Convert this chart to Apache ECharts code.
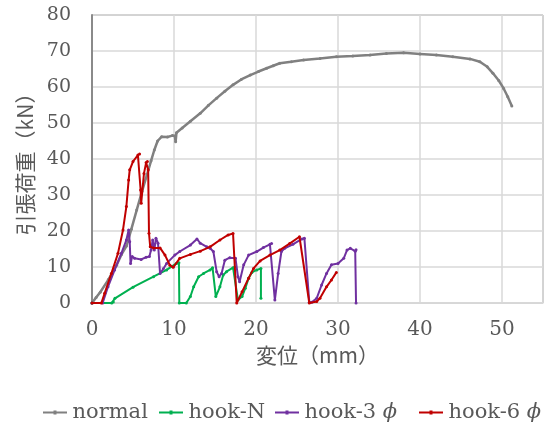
<!DOCTYPE html>
<html>
<head>
<meta charset="utf-8">
<script src="https://cdn.jsdelivr.net/npm/echarts@6/dist/echarts.min.js"></script>
<style>
html,body{margin:0;padding:0;background:#fff;}
#chart{width:547px;height:423px;}
</style>
</head>
<body>
<div id="chart"></div>
<script>
// ---- data (x: displacement mm, y: load kN) ----
const seriesNames = ['normal', 'hook-N', 'hook-3ϕ', 'hook-6ϕ'];
const xTicks = [0, 10, 20, 30, 40, 50];
const yTicks = [0, 10, 20, 30, 40, 50, 60, 70, 80];

const normal = [[0,0],[0.5,1.5],[1,3],[2,6.5],[3,10.5],[3.6,13.5],[4.2,15.8],[4.8,20.5],[5.45,25.8],[6.1,31],[6.7,35.6],[7.2,39.5],[7.6,42.5],[8.0,45],[8.5,46.2],[9.2,46.1],[9.8,46.5],[10.1,46.4],[10.2,44.8],[10.3,47.3],[11.0,48.6],[12.0,50.5],[13.2,52.7],[14.2,54.9],[15.2,56.9],[16.2,58.8],[17.2,60.6],[18.2,62.1],[19.3,63.3],[20.3,64.3],[21.3,65.2],[22.1,65.9],[22.9,66.6],[24.3,67.0],[25.8,67.5],[27.8,67.9],[29.8,68.4],[31.8,68.6],[33.9,68.9],[35.9,69.3],[38,69.5],[40,69.2],[42,68.9],[44,68.4],[46.1,67.8],[47.3,67],[48.2,65.6],[48.9,63.8],[49.6,61.8],[50.2,59.6],[50.7,57.3],[51.2,54.7]];

const hookN = [[0,0],[2.4,0],[2.6,0.3],[2.8,1.3],[5.0,4.4],[7.5,7.3],[9.1,9.2],[10.3,11.0],[10.6,11.2],[10.65,0],[11.5,0],[12.0,1.8],[12.4,4.5],[13.0,7.3],[13.6,8.2],[14.4,9.2],[14.7,9.8],[15.1,1.8],[15.6,4.5],[16.0,7.8],[16.4,8.7],[17.2,9.8],[17.4,10],[17.8,0.8],[18.3,1.8],[18.7,4.1],[19.1,6.9],[19.5,8.5],[20.1,9.2],[20.6,9.6],[20.6,1.3]];

const hook3 = [[0,0],[1.3,0],[1.95,4.5],[2.76,9.2],[3.58,13.8],[4.19,17.5],[4.47,20.3],[4.6,17],[4.7,11],[4.9,12.9],[5.2,12.4],[6.0,12.1],[6.6,12.7],[7.0,12.9],[7.2,14.7],[7.4,17.5],[7.6,14.7],[7.8,18],[8.05,16.6],[8.3,8.2],[8.7,9.5],[9.1,11],[10.1,13.3],[10.7,14.3],[12.0,16.1],[12.8,17.8],[13.2,16.6],[14.0,15.6],[14.4,15.2],[14.8,14.3],[15.2,8.7],[15.5,7.3],[15.8,8.2],[16.2,11.9],[16.8,12.6],[17.5,12.4],[17.8,7.3],[18.0,5.9],[18.5,10.6],[19.1,13.3],[20.1,14.3],[20.9,15.4],[21.7,16.3],[21.9,16.5],[22.3,0.8],[22.7,8.2],[23.1,14.3],[23.5,15.2],[24.5,16.3],[25.6,17.8],[25.9,18],[26.5,0.2],[26.8,0.2],[27.4,1.3],[28.0,5],[28.6,8.2],[29.2,10.6],[30.0,11],[30.7,12.4],[31.1,14.7],[31.5,15.2],[32.1,14.4],[32.2,14.8],[32.2,0]];

const hook6 = [[0,0],[1.14,0],[1.54,2.7],[2.36,8.2],[3.17,13.8],[3.78,20.3],[4.19,26.8],[4.47,34.2],[4.6,37],[5.0,39.3],[5.6,41.1],[5.8,41.4],[5.93,31.4],[6.0,27.7],[6.34,36],[6.6,39],[6.75,39.3],[6.85,37],[6.95,19.4],[7.1,15.6],[7.5,15.3],[8.3,15.3],[8.9,13.3],[9.5,10.5],[9.9,9.9],[10.7,12.4],[12.0,13.5],[13.2,14.4],[14.4,15.6],[15.6,17.5],[16.6,18.9],[17.2,19.3],[17.65,0],[18.3,3.1],[19.1,6.9],[19.7,9.6],[20.5,11.7],[21.7,13.3],[22.9,14.7],[24.1,16.5],[25.3,18.4],[26.5,0],[27.4,0.4],[27.8,1.3],[28.6,4.5],[29.2,6.4],[29.8,8.5]];

const seriesData = [normal, hookN, hook3, hook6];
const colors = ['#808080', '#00b050', '#7030a0', '#c00000'];

// ---- styles ----
const txt = '#595959';
const latin = '"DejaVu Serif", "Liberation Serif", serif';
const cjk = '"Noto Sans CJK JP", sans-serif';
const legendLefts = [38, 154, 270, 414];
const legendIcon = 'path://M0,1L24,1L24,3L0,3Z M10.5,0L13.5,0L13.5,4L10.5,4Z';

const chart = echarts.init(document.getElementById('chart'), null, {renderer: 'canvas'});
const option = {
  animation: false,
  backgroundColor: '#fff',
  color: colors,
  grid: {left: 92, top: 15, right: 4, bottom: 120, show: true, borderColor: '#8a8a8a', borderWidth: 1},
  xAxis: {
    type: 'value', min: xTicks[0], max: 55, interval: 10,
    name: '変位（mm）', nameLocation: 'middle', nameGap: 41,
    nameTextStyle: {fontFamily: cjk, fontSize: 21, color: txt},
    axisLine: {show: true, lineStyle: {color: '#d9d9d9', width: 1.5}},
    axisTick: {show: false},
    splitLine: {show: true, lineStyle: {color: '#d9d9d9', width: 1.5}},
    axisLabel: {margin: 17, showMaxLabel: false, fontFamily: latin, fontSize: 20, color: txt}
  },
  yAxis: {
    type: 'value', min: yTicks[0], max: yTicks[yTicks.length - 1], interval: 10,
    name: '引張荷重（kN）', nameLocation: 'middle', nameGap: 56,
    nameTextStyle: {fontFamily: cjk, fontSize: 21, color: txt},
    axisLine: {show: true, lineStyle: {color: '#8a8a8a', width: 2}},
    axisTick: {show: false},
    splitLine: {show: true, lineStyle: {color: '#d9d9d9', width: 1.5}},
    axisLabel: {margin: 21, fontFamily: latin, fontSize: 19, color: txt}
  },
  legend: seriesNames.map((n, i) => ({
    data: [{name: n, icon: legendIcon}], left: legendLefts[i], top: 397,
    itemWidth: 25, itemHeight: 4, itemGap: 5,
    textStyle: {fontFamily: latin, fontSize: 21, color: txt,
      rich: {a: {fontFamily: latin, fontSize: 21, color: txt},
             b: {fontFamily: latin, fontSize: 21, color: txt, fontStyle: 'italic'}}},
    formatter: name => name.indexOf('ϕ') >= 0 ? '{a|' + name.replace('ϕ', ' ') + '}{b|ϕ}' : name
  })),
  series: seriesNames.map((n, i) => ({
    name: n, type: 'line', data: seriesData[i],
    symbol: 'circle', symbolSize: 3, showSymbol: true,
    lineStyle: {width: i === 0 ? 2.5 : 2, color: colors[i]},
    itemStyle: {color: colors[i]},
    z: 2 + i
  }))
};
chart.setOption(option);
</script>
</body>
</html>
